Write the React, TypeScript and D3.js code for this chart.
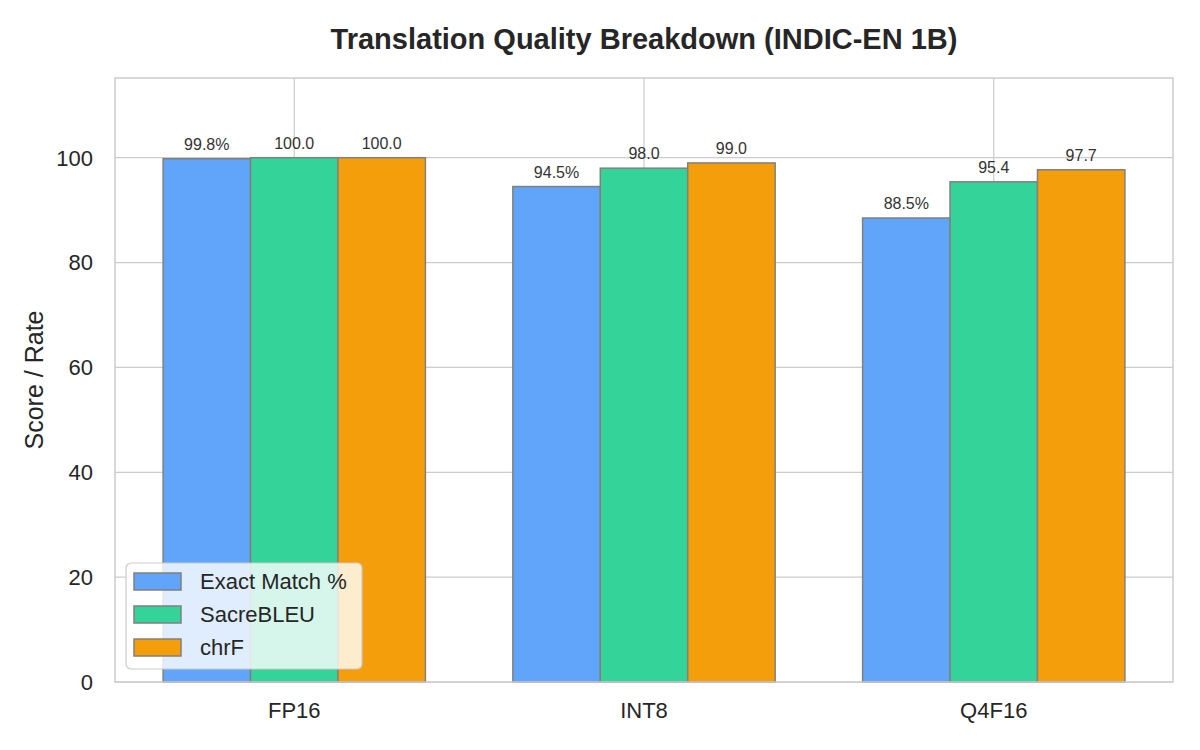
import React from "react";
import * as d3 from "d3";

const categories = ["FP16", "INT8", "Q4F16"];
const seriesNames = ["Exact Match %", "SacreBLEU", "chrF"];
const exactMatch = [99.8, 94.5, 88.5];
const sacreBleu = [100.0, 98.0, 95.4];
const chrF = [100.0, 99.0, 97.7];
const seriesColors = ["#60A5FA", "#34D399", "#F59E0B"];
const yTicks = [0, 20, 40, 60, 80, 100];
const title = "Translation Quality Breakdown (INDIC-EN 1B)";
const yLabel = "Score / Rate";

export default function App() {
  const W = 1200, H = 750;
  const left = 115, right = 1173, top = 78, bottom = 682;
  const x = d3.scaleLinear().domain([-0.5125, 2.5125]).range([left, right]);
  const y = d3.scaleLinear().domain([0, 115.2]).range([bottom, top]);
  const series = [exactMatch, sacreBleu, chrF];
  const bw = 0.25;
  const font = "'Liberation Sans', Arial, sans-serif";
  const fmt = (s: number, v: number) => (s === 0 ? v.toFixed(1) + "%" : v.toFixed(1));
  return (
    <svg width={W} height={H} style={{ position: "absolute", left: 0, top: 0, background: "#fff" }} fontFamily={font}>
      <rect x={0} y={0} width={W} height={H} fill="#fff" />
      {yTicks.map((t) => (
        <line key={"gy" + t} x1={left} x2={right} y1={y(t)} y2={y(t)} stroke="#cccccc" strokeWidth={1.2} />
      ))}
      {categories.map((c, i) => (
        <line key={"gx" + c} x1={x(i)} x2={x(i)} y1={top} y2={bottom} stroke="#cccccc" strokeWidth={1.2} />
      ))}
      {series.map((vals, s) =>
        vals.map((v, i) => {
          const x0 = x(i + (s - 1) * bw - bw / 2);
          const x1 = x(i + (s - 1) * bw + bw / 2);
          return (
            <g key={"b" + s + "-" + i}>
              <rect x={x0} y={y(v)} width={x1 - x0} height={y(0) - y(v)} fill={seriesColors[s]} stroke="#808080" strokeWidth={1.5} />
              <text x={(x0 + x1) / 2} y={y(v) - 9} textAnchor="middle" fontSize={16} fill="#333">
                {fmt(s, v)}
              </text>
            </g>
          );
        })
      )}
      <rect x={left} y={top} width={right - left} height={bottom - top} fill="none" stroke="#cccccc" strokeWidth={1.5} />
      {yTicks.map((t) => (
        <text key={"ty" + t} x={left - 22} y={y(t)} dy="0.36em" textAnchor="end" fontSize={22} fill="#262626">
          {t}
        </text>
      ))}
      {categories.map((c, i) => (
        <text key={"tx" + c} x={x(i)} y={718} textAnchor="middle" fontSize={22} fill="#262626">
          {c}
        </text>
      ))}
      <text transform={`translate(43,${(top + bottom) / 2}) rotate(-90)`} textAnchor="middle" fontSize={25} fill="#262626">
        {yLabel}
      </text>
      <text x={(left + right) / 2} y={49} textAnchor="middle" fontSize={29} fontWeight="bold" fill="#262626">
        {title}
      </text>
      <g>
        <rect x={126} y={563} width={236} height={106} rx={5} fill="#ffffff" fillOpacity={0.8} stroke="#cccccc" strokeWidth={1.2} />
        {seriesNames.map((n, s) => (
          <g key={"l" + n}>
            <rect x={134} y={573 + s * 33} width={47} height={17} fill={seriesColors[s]} stroke="#808080" strokeWidth={1.5} />
            <text x={200} y={589 + s * 33} fontSize={22} fill="#262626">
              {n}
            </text>
          </g>
        ))}
      </g>
    </svg>
  );
}
